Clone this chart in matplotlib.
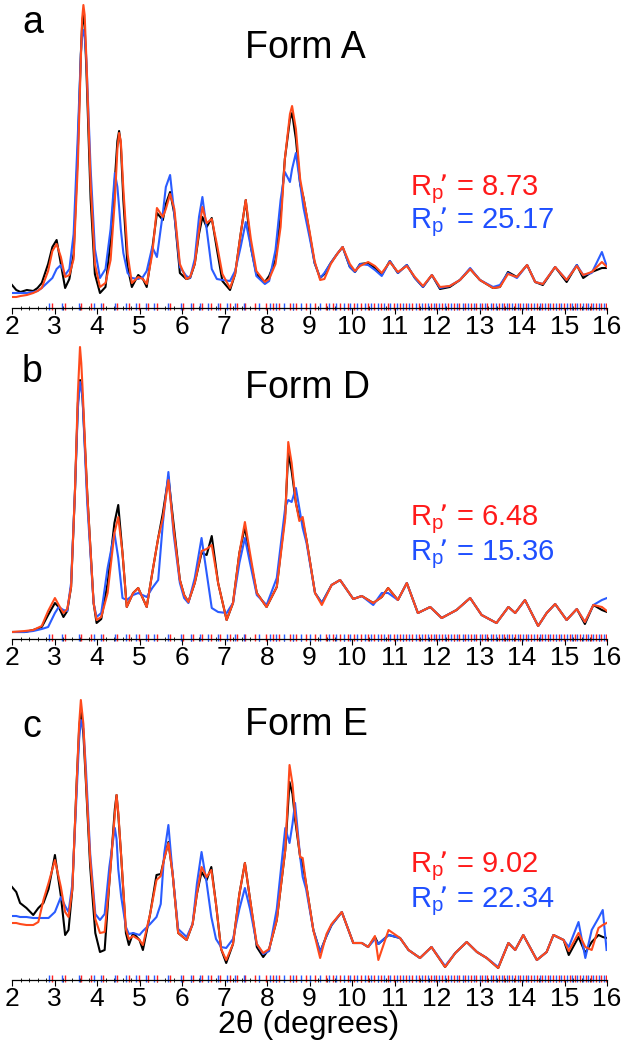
import numpy as np
import matplotlib
matplotlib.use("Agg")
import matplotlib.pyplot as plt
import matplotlib.ticker as ticker

plt.rcParams['font.family'] = ['Liberation Sans', 'DejaVu Sans']
plt.rcParams['mathtext.default'] = 'regular'

# ---- data (intensity in arbitrary units) ----
two_theta_a = [2.00, 2.10, 2.20, 2.35, 2.50, 2.60, 2.70, 2.85, 2.95, 3.05,
               3.15, 3.25, 3.35, 3.45, 3.55, 3.62, 3.65, 3.68, 3.71, 3.75,
               3.85, 3.95, 4.07, 4.20, 4.32, 4.42, 4.48, 4.52, 4.56, 4.62,
               4.72, 4.82, 4.97, 5.08, 5.17, 5.30, 5.41, 5.55, 5.62, 5.72,
               5.82, 5.95, 6.10, 6.19, 6.30, 6.40, 6.48, 6.58, 6.70, 6.82,
               6.95, 7.13, 7.25, 7.38, 7.50, 7.62, 7.75, 7.95, 8.05, 8.20,
               8.32, 8.42, 8.54, 8.59, 8.68, 8.78, 8.86, 9.00, 9.12, 9.25,
               9.35, 9.50, 9.65, 9.78, 9.95, 10.07, 10.19, 10.38, 10.54, 10.70,
               10.89, 11.08, 11.29, 11.48, 11.67, 11.88, 12.07, 12.30, 12.54, 12.78,
               13.01, 13.32, 13.48, 13.67, 13.88, 14.12, 14.31, 14.49, 14.78, 15.05,
               15.29, 15.44, 15.64, 15.88, 16.00]
exp_a = [24, 19, 17, 19, 18, 21, 26, 45, 62, 69,
         45, 21, 30, 55, 160, 255, 284, 296, 282, 240,
         110, 35, 16, 22, 69, 129, 168, 178, 165, 109,
         42, 22, 34, 30, 22, 60, 96, 89, 105, 117,
         95, 36, 30, 31, 45, 75, 92, 82, 91, 60,
         28, 19, 35, 75, 109, 62, 35, 27, 33, 49,
         92, 150, 190, 196, 170, 125, 111, 76, 46, 31,
         35, 46, 55, 62, 42, 37, 45, 46, 41, 34,
         48, 36, 44, 31, 22, 34, 20, 22, 29, 40,
         29, 21, 22, 37, 32, 44, 27, 24, 42, 27,
         44, 31, 37, 41, 41]
fit_a = [12, 12, 13, 14, 16, 18, 21, 38, 58, 65,
         52, 32, 34, 50, 145, 250, 290, 304, 294, 250,
         125, 45, 22, 26, 49, 109, 160, 176, 168, 120,
         55, 26, 32, 30, 25, 55, 101, 92, 100, 115,
         100, 45, 30, 32, 45, 78, 102, 86, 90, 65,
         35, 21, 35, 75, 109, 70, 38, 27, 30, 45,
         82, 150, 195, 203, 180, 130, 111, 78, 48, 29,
         30, 45, 55, 62, 45, 38, 43, 47, 43, 36,
         47, 37, 43, 32, 23, 34, 22, 23, 29, 40,
         29, 21, 22, 35, 32, 44, 27, 25, 42, 29,
         43, 34, 37, 47, 42]
alt_a = [16, 16, 16, 16, 17, 18, 21, 27, 31, 40,
         44, 34, 40, 75, 175, 255, 272, 279, 272, 250,
         140, 60, 31, 40, 80, 136, 122, 102, 80, 56,
         36, 31, 30, 32, 38, 62, 52, 96, 122, 134,
         95, 42, 33, 31, 50, 92, 112, 80, 40, 30,
         29, 28, 38, 62, 87, 62, 33, 25, 28, 59,
         109, 137, 127, 140, 156, 125, 101, 72, 46, 31,
         36, 46, 55, 62, 42, 37, 45, 44, 39, 33,
         48, 36, 44, 31, 22, 34, 21, 23, 29, 41,
         29, 22, 24, 36, 31, 44, 27, 25, 42, 29,
         44, 34, 36, 57, 42]

two_theta_d = [2.00, 2.30, 2.50, 2.70, 2.85, 3.01, 3.10, 3.21, 3.30, 3.39,
               3.48, 3.55, 3.60, 3.63, 3.66, 3.77, 3.92, 3.99, 4.10, 4.25,
               4.41, 4.50, 4.60, 4.70, 4.85, 4.97, 5.17, 5.30, 5.44, 5.55,
               5.68, 5.80, 5.95, 6.05, 6.15, 6.30, 6.46, 6.58, 6.70, 6.85,
               7.05, 7.20, 7.35, 7.48, 7.60, 7.76, 7.99, 8.23, 8.43, 8.50,
               8.58, 8.68, 8.76, 8.84, 8.93, 9.13, 9.29, 9.52, 9.72, 10.03,
               10.23, 10.50, 10.70, 10.85, 11.08, 11.29, 11.55, 11.84, 12.11, 12.46,
               12.78, 13.05, 13.40, 13.68, 13.84, 14.07, 14.38, 14.58, 14.78, 15.05,
               15.29, 15.48, 15.68, 15.88, 16.00]
exp_d = [11, 11, 13, 16, 28, 40, 36, 26, 32, 56,
         150, 240, 263, 258, 245, 150, 40, 20, 24, 60,
         120, 138, 90, 36, 50, 55, 36, 70, 105, 130,
         166, 120, 63, 48, 41, 60, 90, 88, 107, 60,
         23, 40, 90, 116, 85, 50, 36, 56, 130, 190,
         172, 140, 125, 122, 103, 50, 40, 58, 63, 44,
         47, 40, 46, 55, 43, 60, 30, 36, 25, 33,
         45, 28, 20, 36, 30, 43, 17, 30, 39, 23,
         34, 19, 38, 33, 31]
fit_d = [11, 12, 13, 17, 32, 45, 38, 30, 34, 56,
         150, 250, 296, 280, 255, 150, 40, 23, 26, 50,
         110, 126, 90, 36, 50, 55, 36, 70, 105, 125,
         163, 115, 63, 48, 41, 60, 92, 94, 98, 60,
         23, 40, 90, 121, 90, 50, 36, 56, 125, 201,
         180, 140, 122, 126, 103, 50, 38, 58, 63, 44,
         47, 40, 46, 55, 43, 60, 30, 36, 25, 33,
         45, 28, 20, 36, 30, 43, 17, 30, 39, 23,
         34, 21, 38, 36, 32]
alt_d = [11, 11, 12, 14, 16, 30, 36, 33, 32, 60,
         150, 235, 261, 255, 245, 140, 40, 26, 30, 75,
         110, 85, 45, 43, 48, 50, 46, 55, 63, 120,
         171, 110, 60, 45, 40, 65, 105, 70, 35, 31,
         30, 40, 80, 105, 80, 48, 38, 65, 136, 143,
         141, 155, 135, 115, 100, 50, 40, 58, 63, 44,
         47, 38, 50, 50, 43, 60, 30, 36, 25, 33,
         45, 28, 20, 36, 30, 43, 17, 30, 39, 23,
         34, 21, 38, 43, 45]

two_theta_e = [2.00, 2.10, 2.19, 2.34, 2.50, 2.62, 2.74, 2.86, 3.01, 3.15,
               3.25, 3.33, 3.42, 3.52, 3.58, 3.62, 3.68, 3.74, 3.84, 3.96,
               4.07, 4.18, 4.29, 4.42, 4.46, 4.50, 4.57, 4.68, 4.75, 4.85,
               5.00, 5.08, 5.25, 5.40, 5.50, 5.58, 5.68, 5.78, 5.91, 6.11,
               6.25, 6.35, 6.46, 6.58, 6.69, 6.80, 6.92, 7.04, 7.20, 7.35,
               7.48, 7.60, 7.76, 7.91, 8.05, 8.23, 8.43, 8.53, 8.60, 8.66,
               8.78, 8.84, 8.92, 9.09, 9.25, 9.40, 9.52, 9.76, 10.03, 10.23,
               10.38, 10.54, 10.62, 10.86, 11.13, 11.33, 11.60, 11.87, 12.19, 12.43,
               12.70, 12.94, 13.17, 13.44, 13.68, 13.84, 14.03, 14.35, 14.58, 14.74,
               14.98, 15.10, 15.33, 15.49, 15.64, 15.80, 15.90, 15.99]
exp_e = [97, 92, 81, 76, 69, 76, 81, 95, 129, 88,
         49, 54, 95, 200, 255, 272, 250, 201, 117, 51,
         32, 34, 101, 175, 189, 170, 127, 51, 39, 51,
         44, 34, 70, 109, 110, 125, 142, 110, 51, 44,
         60, 90, 112, 104, 117, 80, 35, 21, 40, 90,
         121, 85, 37, 27, 35, 64, 134, 202, 190, 165,
         127, 120, 100, 54, 32, 48, 59, 72, 41, 41,
         37, 47, 40, 49, 46, 34, 26, 37, 17, 31,
         42, 32, 26, 16, 41, 34, 49, 24, 32, 49,
         44, 29, 47, 31, 42, 49, 47, 46]
fit_e = [61, 61, 60, 59, 59, 62, 84, 101, 124, 97,
         72, 67, 95, 200, 260, 284, 260, 205, 125, 65,
         51, 52, 101, 170, 189, 172, 127, 55, 45, 48,
         44, 39, 70, 104, 108, 125, 141, 110, 51, 44,
         60, 90, 117, 107, 114, 80, 35, 24, 40, 90,
         121, 85, 40, 31, 35, 64, 134, 219, 200, 170,
         127, 126, 100, 54, 26, 50, 60, 72, 41, 41,
         37, 48, 24, 54, 46, 34, 26, 37, 17, 31,
         42, 32, 26, 16, 41, 34, 49, 24, 32, 49,
         44, 33, 51, 37, 34, 56, 59, 61]
alt_e = [68, 68, 67, 67, 66, 66, 66, 66, 72, 87,
         78, 72, 100, 190, 245, 264, 255, 215, 130, 70,
         64, 70, 117, 156, 145, 115, 87, 57, 50, 51,
         49, 53, 60, 67, 80, 130, 159, 110, 55, 47,
         60, 100, 132, 101, 67, 45, 37, 36, 45, 75,
         96, 75, 40, 30, 33, 75, 156, 141, 160, 181,
         127, 107, 95, 54, 32, 48, 59, 72, 41, 41,
         37, 45, 40, 49, 46, 34, 26, 37, 18, 31,
         42, 32, 26, 17, 41, 34, 49, 24, 32, 49,
         44, 37, 62, 26, 54, 66, 74, 34]

# reflection positions (tick marks along the axis)
hkl_red = [2.95, 3.25, 3.62, 3.85, 4.15, 4.48, 4.75, 4.98, 5.20, 5.42,
           5.72, 6.02, 6.25, 6.48, 6.68, 6.90, 7.12, 7.30, 7.48, 7.72,
           7.98, 8.15, 8.28, 8.55, 8.68, 8.92, 9.12, 9.38,
           9.55, 9.72, 9.90, 10.05, 10.22, 10.38, 10.52, 10.68, 10.85, 10.98,
           11.12, 11.28, 11.42, 11.58, 11.72, 11.85, 11.98, 12.12, 12.25, 12.40,
           12.52, 12.66, 12.80, 12.92, 13.05, 13.18, 13.32, 13.45, 13.58, 13.70,
           13.84, 13.96, 14.10, 14.22, 14.35, 14.48, 14.60, 14.74, 14.86, 14.98,
           15.12, 15.24, 15.36, 15.50, 15.62, 15.74, 15.86, 15.98]
hkl_blue = [2.88, 3.18, 3.58, 3.92, 4.10, 4.42, 4.68, 4.92, 5.15, 5.35,
            5.66, 5.98, 6.20, 6.42, 6.62, 6.85, 7.05, 7.25, 7.45, 7.80,
            8.08, 8.22, 8.40, 8.62, 8.80, 9.02, 9.25, 9.45,
            9.62, 9.80, 9.96, 10.12, 10.30, 10.45, 10.60, 10.75, 10.90, 11.05,
            11.20, 11.35, 11.50, 11.64, 11.78, 11.92, 12.05, 12.18, 12.32, 12.46,
            12.60, 12.72, 12.86, 13.00, 13.12, 13.26, 13.38, 13.52, 13.64, 13.76,
            13.90, 14.02, 14.15, 14.28, 14.42, 14.54, 14.66, 14.80, 14.92, 15.05,
            15.18, 15.30, 15.44, 15.56, 15.68, 15.80, 15.92]

panel_letters = ["a", "b", "c"]
form_names = ["Form A", "Form D", "Form E"]
rp_red = ["8.73", "6.48", "9.02"]
rp_blue = ["25.17", "15.36", "22.34"]

# ---- layout (pixel based, figure is 627 x 1050) ----
W, H = 627, 1050
fig = plt.figure(figsize=(W / 100, H / 100), dpi=100)

def fx(x):
    return x / W

def fy(y):
    return 1 - y / H

red_line = '#ff4a1c'
blue_line = '#2a5cff'
red_txt = '#ff1a1a'
blue_txt = '#1f4fff'

# (zero line px, top px, bottom px, spine offset)
geom = [(309, 0, 319, 1),
        (643, 330, 653, 4),
        (984, 655, 994, 4)]
series = [(two_theta_a, exp_a, fit_a, alt_a),
          (two_theta_d, exp_d, fit_d, alt_d),
          (two_theta_e, exp_e, fit_e, alt_e)]
letter_pos = [(22, 33, 245, 58), (22, 382, 245, 398), (22, 737, 245, 735)]
rp_base = [(195, 228), (525, 560), (872, 907)]

for i in range(3):
    zero, top, bot, off = geom[i]
    ax = fig.add_axes([fx(12), fy(bot), fx(595), (bot - top) / H])
    ax.patch.set_alpha(0)
    ax.set_xlim(2, 16)
    ax.set_ylim(zero - bot, zero - top)

    tt, e, f, b = series[i]
    ax.plot(tt, e, color='black', lw=1.5, zorder=3)
    ax.plot(tt, b, color=blue_line, lw=1.5, zorder=4)
    ax.plot(tt, f, color=red_line, lw=1.5, zorder=5)

    ax.vlines(hkl_red, off - 2, off + 5, color='#ff2020', lw=1.0, zorder=2)
    ax.vlines(hkl_blue, off - 2, off + 5, color=blue_line, lw=1.0, zorder=2)

    for s in ['left', 'right', 'top']:
        ax.spines[s].set_visible(False)
    ax.spines['bottom'].set_position(('data', off))
    ax.spines['bottom'].set_linewidth(0.9)
    ax.set_yticks([])
    ax.set_xticks(range(2, 17))
    ax.xaxis.set_minor_locator(ticker.MultipleLocator(0.2))
    ax.tick_params(axis='x', which='major', direction='out', length=4,
                   width=0.8, labelsize=19, pad=1.2)
    ax.tick_params(axis='x', which='minor', direction='inout', length=3, width=0.6)

    lx, ly, fxp, fyp = letter_pos[i]
    fig.text(fx(lx), fy(ly), panel_letters[i], fontsize=27, ha='left', va='baseline')
    fig.text(fx(fxp), fy(fyp), form_names[i], fontsize=27, ha='left', va='baseline')
    r1, r2 = rp_base[i]
    fig.text(fx(410), fy(r1), "R$_{p}\\!$\u2019 = " + rp_red[i], fontsize=21,
             color=red_txt, ha='left', va='baseline')
    fig.text(fx(410), fy(r2), "R$_{p}\\!$\u2019 = " + rp_blue[i], fontsize=21,
             color=blue_txt, ha='left', va='baseline')

fig.text(fx(309), fy(1025), "2\u03b8 (degrees)", fontsize=23, ha='center', va='center')

fig.savefig("out.png", dpi=100)
